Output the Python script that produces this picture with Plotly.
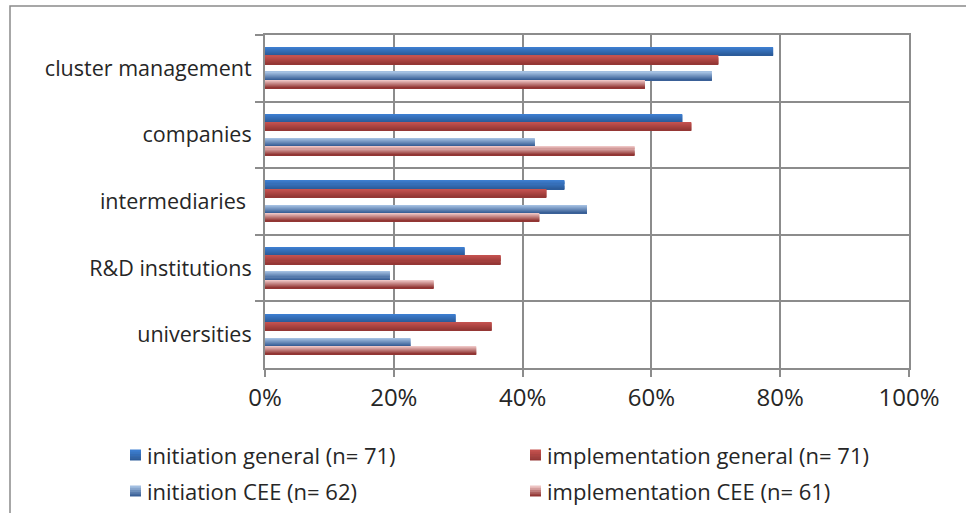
import plotly.graph_objects as go

# Share of respondents per actor group (percent)
categories = ["cluster management", "companies", "intermediaries\u00a0", "R&D institutions", "universities"]
initiation_general = [78.9, 64.8, 46.5, 31.0, 29.6]
implementation_general = [70.4, 66.2, 43.7, 36.6, 35.2]
initiation_cee = [69.4, 41.9, 50.0, 19.4, 22.6]
implementation_cee = [59.0, 57.4, 42.6, 26.2, 32.8]

series_names = [
    "initiation general (n= 71)",
    "implementation general (n= 71)",
    "initiation CEE (n= 62)",
    "implementation CEE (n= 61)",
]
x_ticks = [0, 20, 40, 60, 80, 100]

# Figure geometry (pixels)
W, H = 966, 513
L, R, T, B = 265, 57, 35, 145
PW, PH = W - L - R, H - T - B

FONT = "Open Sans"
TEXT = "#262626"
GRID = "#8c8c8c"

# top / bottom colours of the vertical gradient on each series
gradients = [
    ("#3d7ed0", "#2c5c9b"),
    ("#c4524f", "#953735"),
    ("#a3bfe1", "#3a6097"),
    ("#edc4c3", "#923634"),
]
# bar position inside each category band (reversed axis: negative = above centre)
offsets = [-0.31, -0.185, 0.055, 0.18]
BAR_W = 0.125
N_SLICES = 8


def mix(c1, c2, t):
    a = [int(c1[i:i + 2], 16) for i in (1, 3, 5)]
    b = [int(c2[i:i + 2], 16) for i in (1, 3, 5)]
    return "#%02x%02x%02x" % tuple(round(a[k] + (b[k] - a[k]) * t) for k in range(3))


values = [initiation_general, implementation_general, initiation_cee, implementation_cee]

fig = go.Figure()
for vals, (c_top, c_bot), off, name in zip(values, gradients, offsets, series_names):
    step = BAR_W / N_SLICES
    for k in range(N_SLICES):
        # slight overlap between slices hides anti-aliasing seams
        w = step * 1.5 if k < N_SLICES - 1 else step
        fig.add_trace(go.Bar(
            x=vals, y=categories, orientation="h",
            offset=off + k * step, width=w,
            marker=dict(color=mix(c_top, c_bot, k / (N_SLICES - 1)), line=dict(width=0)),
            name=name, showlegend=False, hoverinfo="x+name",
        ))


def px_x(px):
    return (px - L) / PW


def px_y(py):
    return (H - B - py) / PH


shapes = [
    # outer chart frame
    dict(type="rect", xref="paper", yref="paper",
         x0=px_x(10), x1=px_x(980), y0=px_y(6), y1=px_y(530),
         line=dict(color="#8a8a8a", width=1.5), layer="below"),
]
annotations = []

# legend: gradient swatch + label, two columns
legend_pos = [(130, 455), (530, 455), (130, 491), (530, 491)]
SW = 11
for (c_top, c_bot), name, (lx, ly) in zip(gradients, series_names, legend_pos):
    n = 5
    for k in range(n):
        y0 = ly - SW / 2 + k * SW / n
        shapes.append(dict(type="rect", xref="paper", yref="paper",
                           x0=px_x(lx), x1=px_x(lx + SW),
                           y0=px_y(y0), y1=px_y(y0 + SW / n + (0.6 if k < n - 1 else 0)),
                           fillcolor=mix(c_top, c_bot, k / (n - 1)), line=dict(width=0)))
    annotations.append(dict(xref="paper", yref="paper", x=px_x(lx + SW + 4), y=px_y(ly),
                            xanchor="left", yanchor="middle", showarrow=False, text=name,
                            font=dict(family=FONT, size=22, color=TEXT)))

fig.update_layout(
    width=W, height=H,
    margin=dict(l=L, r=R, t=T, b=B),
    paper_bgcolor="white", plot_bgcolor="white",
    barmode="overlay",
    showlegend=False,
    font=dict(family=FONT, size=20, color=TEXT),
    shapes=shapes,
    annotations=annotations,
    xaxis=dict(
        range=[0, 100], tickvals=x_ticks, ticktext=[f"{v}%" for v in x_ticks],
        showgrid=True, gridcolor=GRID, gridwidth=2,
        showline=True, linecolor=GRID, linewidth=2, mirror=True,
        ticks="outside", ticklen=7, tickwidth=2, tickcolor=GRID,
        tickfont=dict(family=FONT, size=24, color=TEXT),
        zeroline=False, fixedrange=True,
    ),
    yaxis=dict(
        categoryorder="array", categoryarray=categories, autorange="reversed",
        tickson="boundaries", showgrid=True, gridcolor=GRID, gridwidth=2,
        showline=True, linecolor=GRID, linewidth=2, mirror=True,
        ticks="outside", ticklen=8, tickwidth=2, tickcolor=GRID,
        tickfont=dict(family=FONT, size=21.5, color=TEXT),
        ticklabelstandoff=7, fixedrange=True,
    ),
)

fig.write_html("out.html")
